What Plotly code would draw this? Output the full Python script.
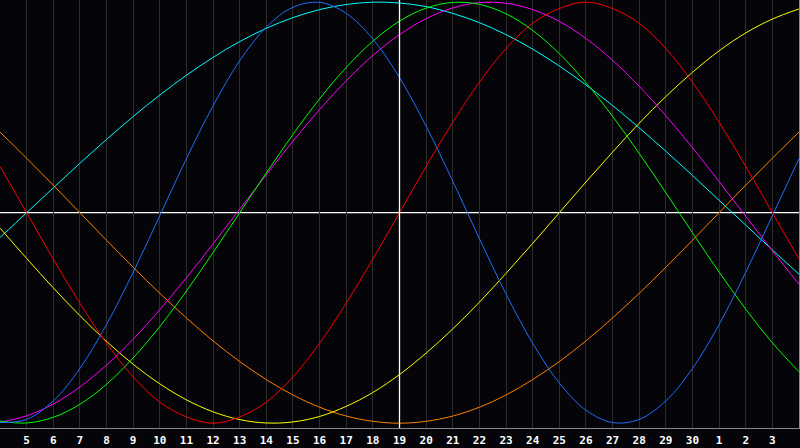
import plotly.graph_objects as go

# Days shown (day 4 of this month through day 4 of next month)
days = list(range(4, 35))
tick_days = list(range(5, 34))
tick_labels = [str(d) for d in range(5, 31)] + ["1", "2", "3"]
today = 19

# Curve values per day, range -1..1
red = [0.22, 0.0, -0.22, -0.43, -0.62, -0.78, -0.90, -0.97, -1.0, -0.97, -0.90, -0.78, -0.62, -0.43, -0.22, 0.0,
       0.22, 0.43, 0.62, 0.78, 0.90, 0.97, 1.0, 0.97, 0.90, 0.78, 0.62, 0.43, 0.22, 0.0, -0.22]
blue = [-0.997, -0.982, -0.894, -0.740, -0.531, -0.283, -0.014, 0.257, 0.508, 0.722, 0.882, 0.976, 0.999, 0.947,
        0.825, 0.642, 0.411, 0.150, -0.123, -0.386, -0.620, -0.809, -0.938, -0.997, -0.982, -0.894, -0.740, -0.531,
        -0.283, -0.014, 0.257]
green = [-0.990, -0.999, -0.972, -0.910, -0.815, -0.690, -0.541, -0.372, -0.189, 0.0, 0.189, 0.372, 0.541, 0.690,
         0.815, 0.910, 0.972, 0.999, 0.990, 0.945, 0.866, 0.756, 0.618, 0.458, 0.282, 0.095, -0.095, -0.282, -0.458,
         -0.618, -0.756]
magenta = [-0.995, -0.965, -0.909, -0.828, -0.724, -0.601, -0.461, -0.309, -0.148, 0.017, 0.181, 0.340, 0.490,
           0.627, 0.747, 0.846, 0.922, 0.973, 0.998, 0.995, 0.965, 0.909, 0.828, 0.724, 0.601, 0.461, 0.309, 0.148,
           -0.017, -0.181, -0.340]
cyan = [-0.118, 0.0, 0.118, 0.235, 0.348, 0.457, 0.559, 0.653, 0.738, 0.813, 0.876, 0.927, 0.965, 0.989, 1.0,
        0.996, 0.979, 0.947, 0.903, 0.846, 0.777, 0.697, 0.607, 0.509, 0.403, 0.292, 0.177, 0.059, -0.059, -0.177,
        -0.292]
yellow = [-0.073, -0.217, -0.357, -0.489, -0.611, -0.720, -0.813, -0.889, -0.946, -0.983, -0.999, -0.994, -0.968,
          -0.920, -0.854, -0.769, -0.667, -0.552, -0.425, -0.288, -0.146, 0.0, 0.146, 0.288, 0.425, 0.552, 0.667,
          0.769, 0.854, 0.920, 0.968]
orange = [0.383, 0.259, 0.131, 0.0, -0.131, -0.259, -0.383, -0.5, -0.609, -0.707, -0.793, -0.866, -0.924, -0.966,
          -0.991, -1.0, -0.991, -0.966, -0.924, -0.866, -0.793, -0.707, -0.609, -0.5, -0.383, -0.259, -0.131, 0.0,
          0.131, 0.259, 0.383]

series = [
    ("cyan", cyan, "#00ffff"),
    ("orange", orange, "#ff8000"),
    ("yellow", yellow, "#ffff00"),
    ("magenta", magenta, "#ff00ff"),
    ("green", green, "#00ff00"),
    ("blue", blue, "#1e6eff"),
    ("red", red, "#ff0000"),
]

fig = go.Figure()
for name, vals, col in series:
    fig.add_trace(go.Scatter(x=days, y=vals, mode="lines", name=name,
                             line=dict(color=col, width=1, shape="spline"),
                             hoverinfo="skip"))

bg = "#050408"
fig.update_layout(
    width=800, height=448,
    margin=dict(l=0, r=1, t=0, b=20),
    paper_bgcolor=bg, plot_bgcolor=bg,
    showlegend=False,
    xaxis=dict(range=[4, 34], tickvals=tick_days, ticktext=tick_labels,
               showgrid=True, gridcolor="#2c2c2c", gridwidth=1,
               zeroline=False, showline=True, linecolor="#8a8a8a", linewidth=1, mirror=True,
               ticks="", ticklabelstandoff=2,
               tickfont=dict(family="DejaVu Sans Mono", size=11, color="white", weight="bold"),
               fixedrange=True),
    yaxis=dict(range=[-1.0228, 1.0105], showgrid=False, showticklabels=False,
               zeroline=False, showline=True, linecolor="#8a8a8a", linewidth=1, mirror=True,
               ticks="", fixedrange=True),
    shapes=[
        dict(type="line", xref="x", yref="y", x0=today, x1=today, y0=-1.0228, y1=1.0105,
             line=dict(color="#ffffff", width=1.3), layer="above"),
        dict(type="line", xref="paper", yref="y", x0=0, x1=1, y0=0, y1=0,
             line=dict(color="#ffffff", width=1.3), layer="between"),
    ],
)

fig.write_html(
    "out.html",
    config={"displayModeBar": False, "staticPlot": True},
    post_script="document.body.style.margin='0';document.body.style.padding='0';"
                "document.body.style.overflow='hidden';document.body.style.background='#050408';",
)
